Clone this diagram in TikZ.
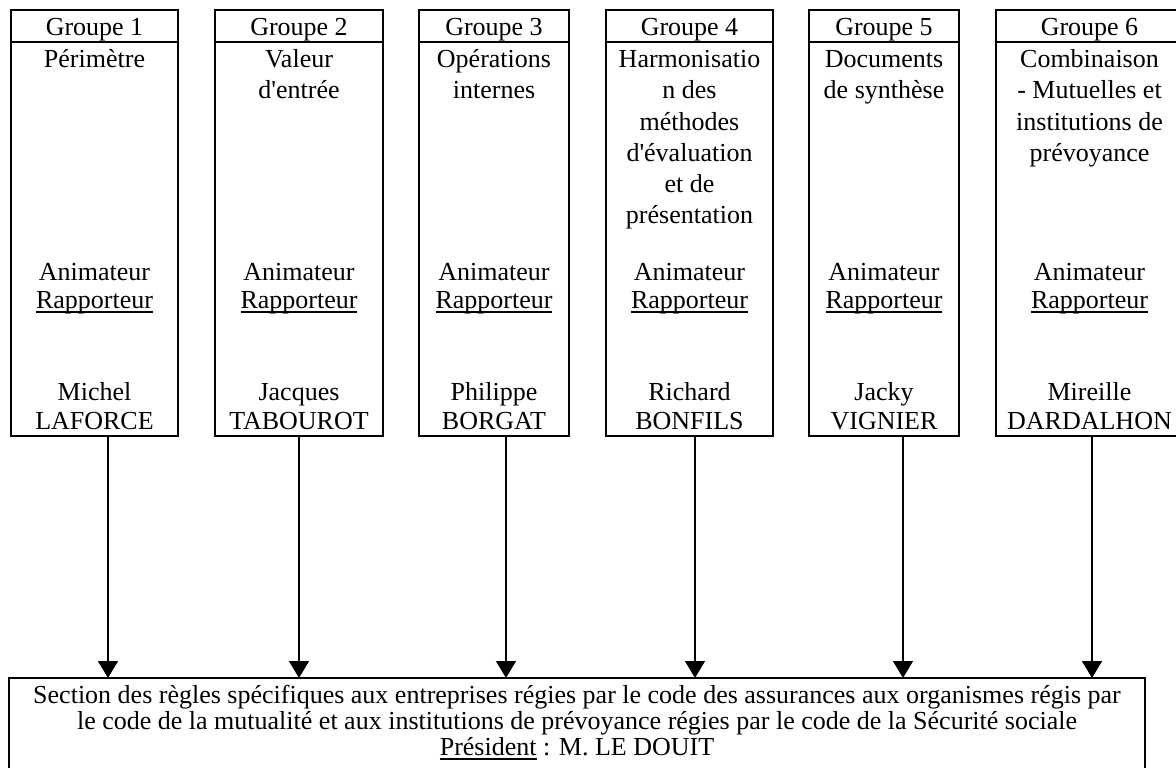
\documentclass[tikz,border=0pt]{standalone}
\usepackage{fontspec}
\setmainfont{Liberation Serif}
\usetikzlibrary{arrows.meta}
\newcommand\ulx[1]{\setbox0\hbox{#1}\rlap{\rule[-4.5pt]{\wd0}{1.3pt}}\box0{}}
\newcommand\apo{\textquotesingle}
\begin{document}
\begin{tikzpicture}[x=1pt,y=-1pt,
  box/.style={draw, line width=1.5pt, inner sep=0pt, outer sep=0pt, rectangle},
  txt/.style={anchor=base, inner sep=0pt, outer sep=0pt, font=\fontsize{26}{30}\selectfont},
  arr/.style={line width=1.5pt, -{Triangle[width=20pt,length=17pt]}}]
\useasboundingbox (0,0) rectangle (1176,768);
\clip (0,0) rectangle (1176,768);
\fill[white] (0,0) rectangle (1176,768);

% arrow x positions
\coordinate (ax1) at (108,0);
\coordinate (ax2) at (299,0);
\coordinate (ax3) at (506,0);
\coordinate (ax4) at (695,0);
\coordinate (ax5) at (903,0);
\coordinate (ax6) at (1092,0);

% group boxes: header 10-42, body 42-436
\node[box, minimum width=167pt, minimum height=32pt] (h1) at (94.5,26) {};
\node[box, minimum width=167pt, minimum height=394pt] (b1) at (94.5,239) {};
\node[box, minimum width=168pt, minimum height=32pt] (h2) at (299,26) {};
\node[box, minimum width=168pt, minimum height=394pt] (b2) at (299,239) {};
\node[box, minimum width=150pt, minimum height=32pt] (h3) at (494,26) {};
\node[box, minimum width=150pt, minimum height=394pt] (b3) at (494,239) {};
\node[box, minimum width=167pt, minimum height=32pt] (h4) at (689.5,26) {};
\node[box, minimum width=167pt, minimum height=394pt] (b4) at (689.5,239) {};
\node[box, minimum width=150pt, minimum height=32pt] (h5) at (884,26) {};
\node[box, minimum width=150pt, minimum height=394pt] (b5) at (884,239) {};
\node[box, minimum width=187pt, minimum height=32pt] (h6) at (1089.5,26) {};
\node[box, minimum width=187pt, minimum height=394pt] (b6) at (1089.5,239) {};

% section box
\node[box, minimum width=1136pt, minimum height=132pt] (sec) at (577,744) {};

% group 1
\node[txt] (t1a) at (94.5,36) {Groupe 1};
\node[txt] (t1b) at (94.5,68) {Périmètre};
\node[txt] (t1c) at (94.5,280) {Animateur};
\node[txt] (t1d) at (94.5,308) {\ulx{Rapporteur}};
\node[txt] (t1e) at (94.5,400) {Michel};
\node[txt] (t1f) at (94.5,429) {LAFORCE};
% group 2
\node[txt] (t2a) at (299,36) {Groupe 2};
\node[txt] (t2b) at (299,68) {Valeur};
\node[txt] (t2b2) at (299,99) {d\apo entrée};
\node[txt] (t2c) at (299,280) {Animateur};
\node[txt] (t2d) at (299,308) {\ulx{Rapporteur}};
\node[txt] (t2e) at (299,400) {Jacques};
\node[txt] (t2f) at (299,429) {TABOUROT};
% group 3
\node[txt] (t3a) at (494,36) {Groupe 3};
\node[txt] (t3b) at (494,68) {Opérations};
\node[txt] (t3b2) at (494,99) {internes};
\node[txt] (t3c) at (494,280) {Animateur};
\node[txt] (t3d) at (494,308) {\ulx{Rapporteur}};
\node[txt] (t3e) at (494,400) {Philippe};
\node[txt] (t3f) at (494,429) {BORGAT};
% group 4
\node[txt] (t4a) at (689.5,36) {Groupe 4};
\node[txt] (t4b) at (689.5,68) {Harmonisatio};
\node[txt] (t4b2) at (689.5,99) {n des};
\node[txt] (t4b3) at (689.5,130) {méthodes};
\node[txt] (t4b4) at (689.5,161) {d\apo évaluation};
\node[txt] (t4b5) at (689.5,192) {et de};
\node[txt] (t4b6) at (689.5,223) {présentation};
\node[txt] (t4c) at (689.5,280) {Animateur};
\node[txt] (t4d) at (689.5,308) {\ulx{Rapporteur}};
\node[txt] (t4e) at (689.5,400) {Richard};
\node[txt] (t4f) at (689.5,429) {BONFILS};
% group 5
\node[txt] (t5a) at (884,36) {Groupe 5};
\node[txt] (t5b) at (884,68) {Documents};
\node[txt] (t5b2) at (884,99) {de synthèse};
\node[txt] (t5c) at (884,280) {Animateur};
\node[txt] (t5d) at (884,308) {\ulx{Rapporteur}};
\node[txt] (t5e) at (884,400) {Jacky};
\node[txt] (t5f) at (884,429) {VIGNIER};
% group 6
\node[txt] (t6a) at (1089.5,36) {Groupe 6};
\node[txt] (t6b) at (1089.5,68) {Combinaison};
\node[txt] (t6b2) at (1089.5,99) {- Mutuelles et};
\node[txt] (t6b3) at (1089.5,130) {institutions de};
\node[txt] (t6b4) at (1089.5,161) {prévoyance};
\node[txt] (t6c) at (1089.5,280) {Animateur};
\node[txt] (t6d) at (1089.5,308) {\ulx{Rapporteur}};
\node[txt] (t6e) at (1089.5,400) {Mireille};
\node[txt] (t6f) at (1089.5,429) {DARDALHON};

% section text
\node[txt] (s1) at (577,703) {Section des règles spécifiques aux entreprises régies par le code des assurances aux organismes régis par};
\node[txt] (s2) at (577,729) {le code de la mutualité et aux institutions de prévoyance régies par le code de la Sécurité sociale};
\node[txt] (s3) at (577,755) {\ulx{Président} : M. LE DOUIT};

% connectors
\foreach \i in {1,...,6}{
  \draw[arr] (b\i.south -| ax\i) -- (sec.north -| ax\i);
}
\end{tikzpicture}
\end{document}
